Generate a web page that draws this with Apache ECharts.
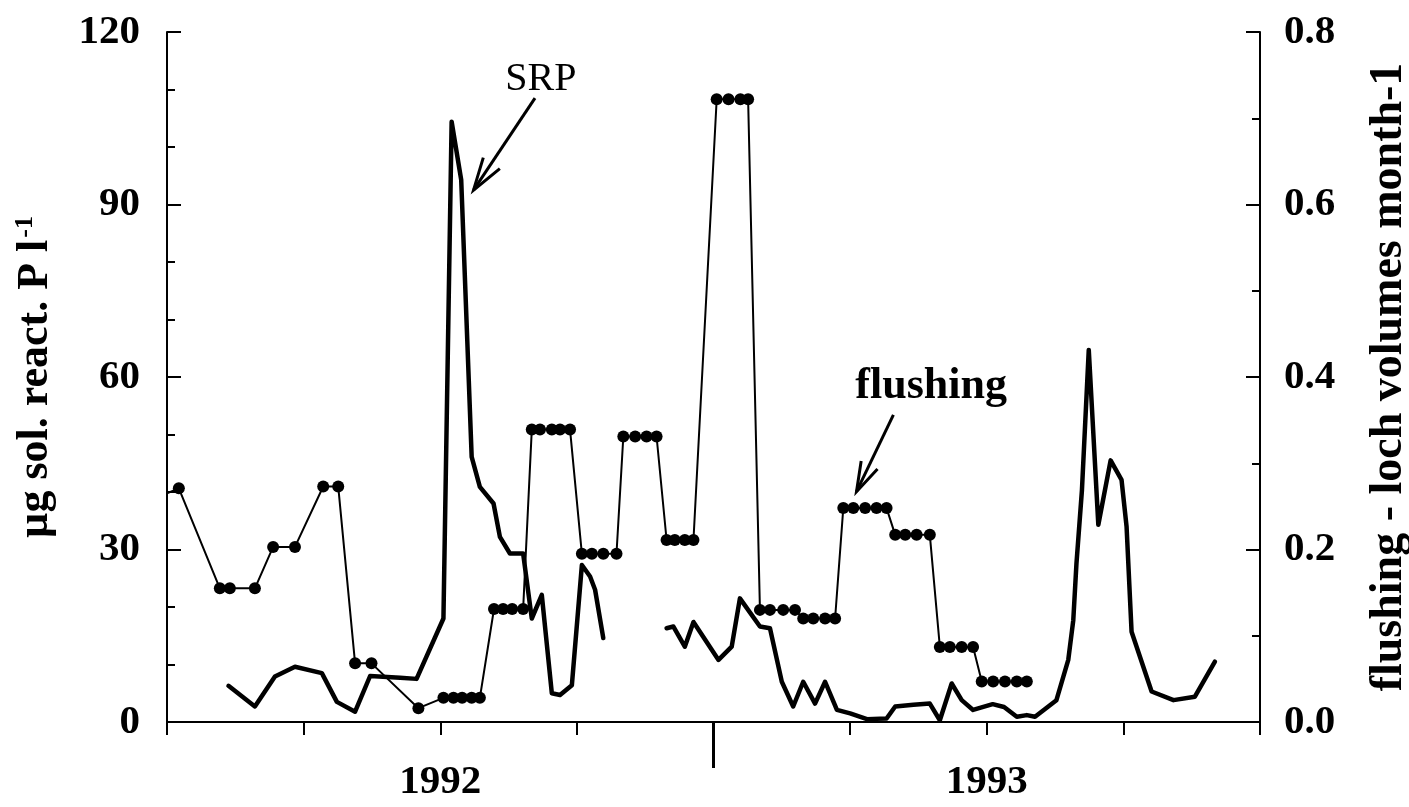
<!DOCTYPE html>
<html>
<head>
<meta charset="utf-8">
<script src="https://cdn.jsdelivr.net/npm/echarts@6/dist/echarts.min.js"></script>
<style>
  html, body { margin: 0; padding: 0; background: #fff; }
  #chart { width: 1409px; height: 807px; }
</style>
</head>
<body>
<div id="chart"></div>
<script>
// Time is counted in months from the start of the record (axis ticks every quarter).
const srpMonths = [1.35, 1.93, 2.37, 2.81, 3.40, 3.73, 4.13, 4.46, 5.12, 5.48,
  6.07, 6.25, 6.46, 6.69, 6.87, 7.17, 7.31, 7.53, 7.82, 8.01, 8.23, 8.45, 8.63,
  8.89, 9.11, 9.29, 9.40, 9.58, 10.30,
  10.97, 11.12, 11.37, 11.56, 12.11, 12.40, 12.58, 13.02, 13.24, 13.50, 13.75,
  13.97, 14.23, 14.45, 14.71, 15.00, 15.37, 15.80, 15.99, 16.39, 16.75, 16.97,
  17.23, 17.45, 17.70, 18.13, 18.38, 18.66, 18.88, 19.06, 19.53, 19.79, 19.90,
  19.97, 20.09, 20.24, 20.45, 20.72, 20.96, 21.07, 21.18, 21.62, 22.10, 22.57,
  23.01];
// Soluble reactive phosphorus, µg P per litre (null = gap in sampling)
const srpValues = [6.3, 2.7, 7.9, 9.6, 8.5, 3.5, 1.8, 8.0, 7.7, 7.5,
  18.0, 104.4, 94.3, 46.1, 40.9, 38.0, 32.2, 29.3, 29.3, 18.0, 22.1, 5.0, 4.7,
  6.4, 27.3, 25.3, 23.0, 14.6, null,
  16.3, 16.6, 13.1, 17.4, 10.8, 13.1, 21.5, 16.6, 16.3, 7.0, 2.7,
  7.0, 3.2, 7.0, 2.1, 1.5, 0.5, 0.6, 2.7, 3.0, 3.2, 0.3,
  6.7, 3.8, 2.1, 3.1, 2.6, 0.9, 1.2, 0.9, 3.8, 10.8, 17.7,
  27.6, 40.3, 64.7, 34.3, 45.5, 42.1, 34.0, 15.7, 5.3, 3.8, 4.4,
  10.5];

const flushMonths = [0.0, 0.26, 1.16, 1.38, 1.93, 2.33, 2.81, 3.43, 3.76, 4.13, 4.49,
  5.52, 6.07, 6.29, 6.48, 6.69, 6.87, 7.18, 7.38, 7.58, 7.82,
  8.01, 8.19, 8.45, 8.63, 8.85, 9.11, 9.33, 9.58, 9.87,
  10.02, 10.28, 10.53, 10.75, 10.97, 11.15, 11.37, 11.56,
  12.07, 12.33, 12.59, 12.76, 13.02, 13.24, 13.53, 13.79,
  13.97, 14.19, 14.45, 14.67, 14.85, 15.07, 15.33, 15.58, 15.80,
  15.99, 16.21, 16.46, 16.75, 16.97, 17.19, 17.45, 17.70,
  17.89, 18.14, 18.40, 18.66, 18.88];
// Flushing rate, loch volumes per month
const flushValues = [0.265, 0.271, 0.155, 0.155, 0.155, 0.203, 0.203, 0.273, 0.273, 0.068, 0.068,
  0.016, 0.028, 0.028, 0.028, 0.028, 0.028, 0.131, 0.131, 0.131, 0.131,
  0.339, 0.339, 0.339, 0.339, 0.339, 0.195, 0.195, 0.195, 0.195,
  0.331, 0.331, 0.331, 0.331, 0.211, 0.211, 0.211, 0.211,
  0.722, 0.722, 0.722, 0.722, 0.130, 0.130, 0.130, 0.130,
  0.120, 0.120, 0.120, 0.120, 0.248, 0.248, 0.248, 0.248, 0.248,
  0.217, 0.217, 0.217, 0.217, 0.087, 0.087, 0.087, 0.087,
  0.047, 0.047, 0.047, 0.047, 0.047];

const yearLabelMonths = [6, 18];
const yearLabels = ['1992', '1993'];
const yearDividerMonth = [12];

const SERIF = '"Liberation Serif", "Times New Roman", serif';
const INK = '#000';

const srpData = srpMonths.map((m, i) => [m, srpValues[i] === null ? '-' : srpValues[i]]);
const flushData = flushMonths.map((m, i) => i === 0
  ? { value: [m, flushValues[i]], symbol: 'none' }
  : [m, flushValues[i]]);

const chart = echarts.init(document.getElementById('chart'), null, { renderer: 'canvas' });

const axisFont = { fontFamily: SERIF, fontWeight: 'bold', fontSize: 41, color: INK };

chart.setOption({
  backgroundColor: '#fff',
  animation: false,
  grid: { left: 167, right: 149, top: 32, bottom: 85, containLabel: false, outerBoundsMode: 'none' },
  xAxis: [{
    type: 'value', min: 0, max: 24, interval: 3,
    axisLine: { show: true, onZero: false, lineStyle: { color: INK, width: 2 } },
    axisTick: { show: true, inside: false, length: 13, lineStyle: { color: INK, width: 2 } },
    splitLine: { show: false },
    axisLabel: Object.assign({}, axisFont, {
      margin: 40,
      formatter: v => {
        const i = yearLabelMonths.indexOf(v);
        return i >= 0 ? yearLabels[i] : '';
      }
    })
  }, {
    // long divider tick between the two years
    type: 'value', min: 0, max: 24, position: 'bottom', gridIndex: 0,
    axisLine: { show: false, onZero: false },
    axisTick: { show: true, inside: false, length: 46, customValues: yearDividerMonth,
      lineStyle: { color: INK, width: 3 } },
    axisLabel: { show: false },
    splitLine: { show: false }
  }],
  yAxis: [{
    type: 'value', min: 0, max: 120, interval: 30, position: 'left',
    name: '{a|µg sol. react. P l}{s|-1}',
    nameLocation: 'middle', nameRotate: 90, nameGap: 107,
    nameTextStyle: {
      rich: {
        a: { fontFamily: SERIF, fontWeight: 'bold', fontSize: 44, color: INK, lineHeight: 48 },
        s: { fontFamily: SERIF, fontWeight: 'bold', fontSize: 26, color: INK, lineHeight: 48, verticalAlign: 'top', padding: [0, 0, 0, 2] }
      }
    },
    axisLine: { show: true, onZero: false, lineStyle: { color: INK, width: 2 } },
    axisTick: { show: true, inside: true, length: 14, lineStyle: { color: INK, width: 2 } },
    minorTick: { show: true, splitNumber: 3, length: 8, lineStyle: { color: INK, width: 2 } },
    splitLine: { show: false },
    minorSplitLine: { show: false },
    axisLabel: Object.assign({}, axisFont, { margin: 27 })
  }, {
    type: 'value', min: 0, max: 0.8, interval: 0.2, position: 'right',
    name: 'flushing - loch volumes month-1',
    nameLocation: 'middle', nameRotate: 90, nameGap: 106,
    nameTextStyle: { fontFamily: SERIF, fontWeight: 'bold', fontSize: 46, color: INK },
    axisLine: { show: true, onZero: false, lineStyle: { color: INK, width: 2 } },
    axisTick: { show: true, inside: true, length: 14, lineStyle: { color: INK, width: 2 } },
    minorTick: { show: true, splitNumber: 2, length: 8, lineStyle: { color: INK, width: 2 } },
    splitLine: { show: false },
    minorSplitLine: { show: false },
    axisLabel: Object.assign({}, axisFont, { margin: 24, formatter: v => v.toFixed(1) })
  }],
  series: [{
    name: 'SRP',
    type: 'line',
    xAxisIndex: 0, yAxisIndex: 0,
    data: srpData,
    showSymbol: false, symbol: 'none',
    connectNulls: false,
    lineStyle: { color: INK, width: 4.5, cap: 'round', join: 'round' },
    z: 3
  }, {
    name: 'flushing',
    type: 'line',
    xAxisIndex: 0, yAxisIndex: 1,
    data: flushData,
    symbol: 'circle', symbolSize: 12,
    itemStyle: { color: INK },
    lineStyle: { color: INK, width: 2 },
    z: 2
  }]
});

// Annotations: labels with arrows, anchored in data coordinates (months, µg P l-1)
const notes = [
  { text: 'SRP', weight: 'normal', size: 40, label: [8.21, 111.8], tail: [8.08, 108.5], tip: [6.73, 92.5], head: 34 },
  { text: 'flushing', weight: 'bold', size: 44, label: [16.78, 58.4], tail: [15.95, 53.4], tip: [15.14, 40.05], head: 31 }
];

function toPx(p) {
  return chart.convertToPixel({ xAxisIndex: 0, yAxisIndex: 0 }, p);
}

const graphics = [];
notes.forEach(n => {
  const c = toPx(n.label), tail = toPx(n.tail), tip = toPx(n.tip);
  graphics.push({
    type: 'text', x: c[0], y: c[1], z: 10,
    style: { text: n.text, fontFamily: SERIF, fontWeight: n.weight, fontSize: n.size,
      fill: INK, align: 'center', verticalAlign: 'middle' }
  });
  graphics.push({
    type: 'line', z: 10,
    shape: { x1: tail[0], y1: tail[1], x2: tip[0], y2: tip[1] },
    style: { stroke: INK, lineWidth: 3 }
  });
  const ang = Math.atan2(tail[1] - tip[1], tail[0] - tip[0]);
  const spread = 17 * Math.PI / 180;
  graphics.push({
    type: 'polyline', z: 10,
    shape: { points: [
      [tip[0] + n.head * Math.cos(ang - spread), tip[1] + n.head * Math.sin(ang - spread)],
      [tip[0], tip[1]],
      [tip[0] + n.head * Math.cos(ang + spread), tip[1] + n.head * Math.sin(ang + spread)]
    ] },
    style: { stroke: INK, lineWidth: 3, fill: null }
  });
});
chart.setOption({ graphic: graphics });
</script>
</body>
</html>
